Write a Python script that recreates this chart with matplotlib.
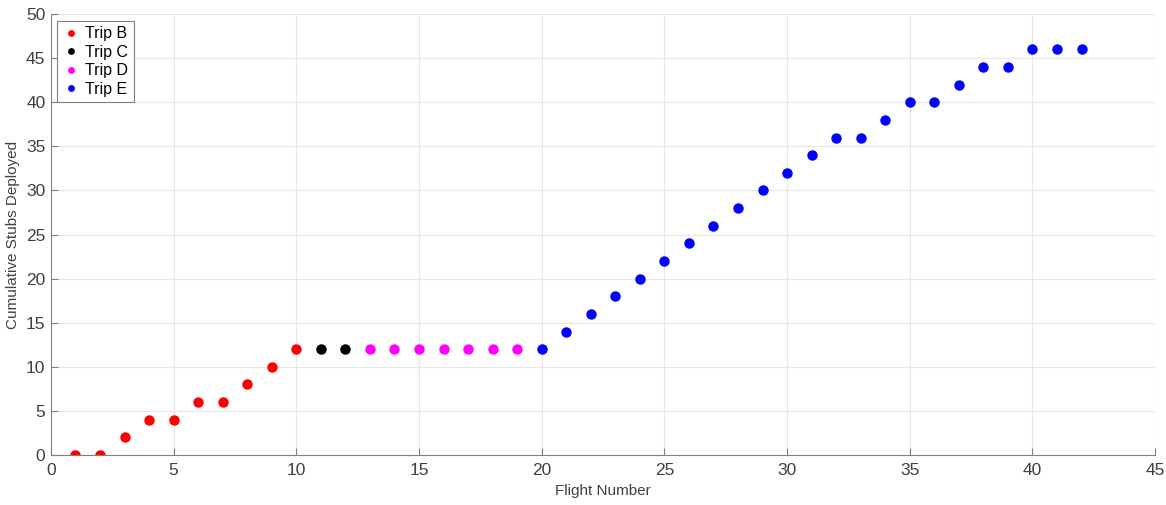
import matplotlib.pyplot as plt

plt.rcParams['font.family'] = ['Liberation Sans', 'DejaVu Sans']

flights_b = [1, 2, 3, 4, 5, 6, 7, 8, 9, 10]
stubs_b = [0, 0, 2, 4, 4, 6, 6, 8, 10, 12]
flights_c = [11, 12]
stubs_c = [12, 12]
flights_d = [13, 14, 15, 16, 17, 18, 19]
stubs_d = [12, 12, 12, 12, 12, 12, 12]
flights_e = list(range(20, 43))
stubs_e = [12, 14, 16, 18, 20, 22, 24, 26, 28, 30, 32, 34, 36, 36,
           38, 40, 40, 42, 44, 44, 46, 46, 46]

fig = plt.figure(figsize=(11.66, 5.05), dpi=100)
ax = fig.add_axes([0.0437, 0.099, 0.947, 0.873])

series = [
    (flights_b, stubs_b, '#ff0000', 'Trip B'),
    (flights_c, stubs_c, '#000000', 'Trip C'),
    (flights_d, stubs_d, '#ff00ff', 'Trip D'),
    (flights_e, stubs_e, '#0000ff', 'Trip E'),
]
for x, y, c, lab in series:
    ax.plot(x, y, 'o', color=c, markersize=6.5, label=lab, linestyle='none')

ax.set_xlim(0, 45)
ax.set_ylim(0, 50)
ax.set_xticks(range(0, 46, 5))
ax.set_yticks(range(0, 51, 5))
ax.grid(True, color='#e6e6e6', linewidth=0.8)
ax.set_axisbelow(True)
for s in ['top', 'right']:
    ax.spines[s].set_visible(False)
for s in ['left', 'bottom']:
    ax.spines[s].set_color('#808080')
ax.tick_params(direction='in', length=5, color='#808080', labelcolor='#404040',
               labelsize=12.5)
ax.tick_params(axis='x', pad=6)
ax.tick_params(axis='y', pad=4)
ax.set_xlabel('Flight Number', fontsize=11, color='#404040', labelpad=4)
ax.set_ylabel('Cumulative Stubs Deployed', fontsize=11, color='#404040', labelpad=4)

leg = ax.legend(loc='upper left', fontsize=11.5, markerscale=0.6, handletextpad=0.4,
                handlelength=1.0, borderpad=0.35, labelspacing=0.22,
                fancybox=False, framealpha=1, borderaxespad=0.4)
leg.get_frame().set_edgecolor('#808080')
leg.get_frame().set_linewidth(0.8)

fig.savefig('out.png', dpi=100)
